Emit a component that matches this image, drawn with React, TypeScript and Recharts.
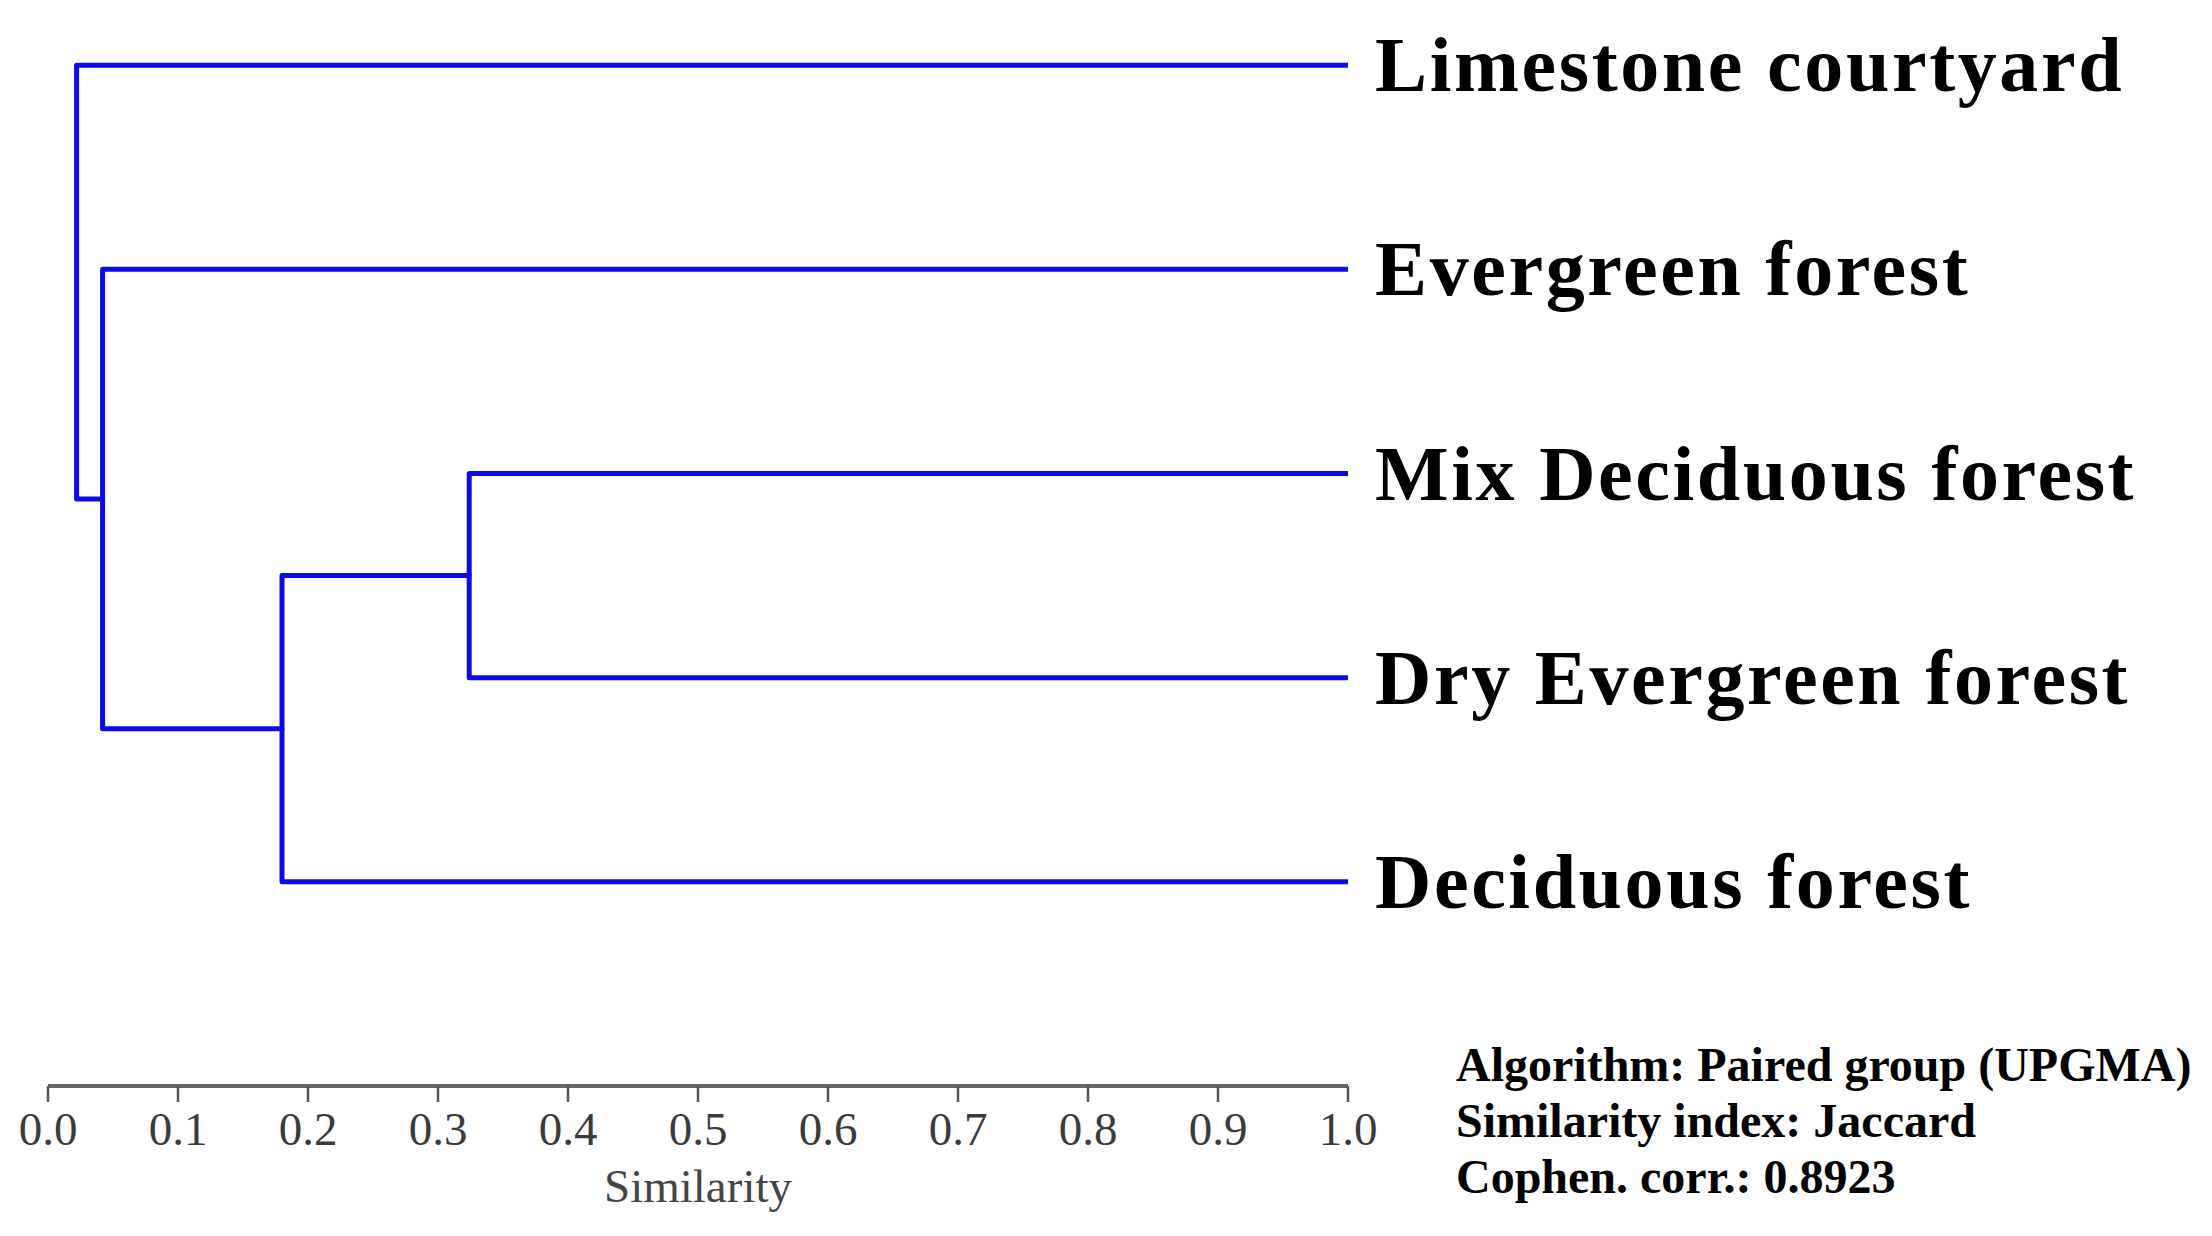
import { ScatterChart, Scatter, XAxis, YAxis } from "recharts";

const leaves = [
  "Limestone courtyard",
  "Evergreen forest",
  "Mix Deciduous forest",
  "Dry Evergreen forest",
  "Deciduous forest",
];
const leafSimilarity = 1.0;

// UPGMA merges, in order. ids 0-4 are leaves, 5.. are the clusters made here
const mergeA = [2, 5, 1, 0];
const mergeB = [3, 4, 6, 7];
const mergeSimilarity = [0.324, 0.18, 0.042, 0.022];

const xTicks = [0, 0.1, 0.2, 0.3, 0.4, 0.5, 0.6, 0.7, 0.8, 0.9, 1.0];
const leafTicks = [0, 1, 2, 3, 4];

const notes = [
  "Algorithm: Paired group (UPGMA)",
  "Similarity index: Jaccard",
  "Cophen. corr.: 0.8923",
];

const BLUE = "#0b0be8";
const SERIF = "'Liberation Serif', 'Times New Roman', serif";

// position of each node on the leaf axis and its similarity level
const pos: number[] = leaves.map((_, i) => i);
const sim: number[] = leaves.map(() => leafSimilarity);
const branches = mergeA.map((a, k) => {
  const b = mergeB[k];
  const s = mergeSimilarity[k];
  pos.push((pos[a] + pos[b]) / 2);
  sim.push(s);
  return [
    { x: sim[a], y: pos[a] },
    { x: s, y: pos[a] },
    { x: s, y: pos[b] },
    { x: sim[b], y: pos[b] },
  ];
});

const LeafTick = ({ x, y, payload }: any) => (
  <text
    x={x}
    y={y}
    dy={26}
    fill="#000"
    fontSize={78}
    fontWeight="bold"
    fontFamily={SERIF}
    letterSpacing={2.6}
  >
    {leaves[payload.value]}
  </text>
);

export default function App() {
  return (
    <div
      style={{
        position: "absolute",
        left: 0,
        top: 0,
        width: 2212,
        height: 1236,
        background: "#fff",
      }}
    >
      <ScatterChart
        width={2212}
        height={1236}
        margin={{ top: 55, right: 44, bottom: 0, left: 48 }}
      >
        <XAxis
          type="number"
          dataKey="x"
          domain={[0, 1]}
          ticks={xTicks}
          interval={0}
          allowDataOverflow
          height={150}
          tickFormatter={(v: number) => v.toFixed(1)}
          axisLine={{ stroke: "#666", strokeWidth: 4 }}
          tickLine={{ stroke: "#555", strokeWidth: 2.5 }}
          tickSize={16}
          tickMargin={10}
          tick={{ fill: "#3a3a3a", fontSize: 47, fontFamily: SERIF }}
          label={{
            value: "Similarity",
            position: "insideBottom",
            offset: 34,
            fill: "#444",
            fontSize: 47,
            fontFamily: SERIF,
          }}
        />
        <YAxis
          type="number"
          dataKey="y"
          orientation="right"
          domain={[-0.05, 5]}
          reversed
          ticks={leafTicks}
          interval={0}
          width={820}
          axisLine={false}
          tickLine={false}
          tickSize={0}
          tickMargin={27}
          tick={<LeafTick />}
        />
        {branches.map((pts, i) => (
          <Scatter
            key={i}
            data={pts}
            isAnimationActive={false}
            shape={() => <g />}
            line={{
              stroke: BLUE,
              strokeWidth: 5,
              strokeLinejoin: "round",
              strokeLinecap: "round",
            }}
          />
        ))}
      </ScatterChart>
      <div
        style={{
          position: "absolute",
          left: 1456,
          top: 1037,
          fontFamily: SERIF,
          fontWeight: "bold",
          fontSize: 48,
          lineHeight: "56px",
          color: "#000",
          whiteSpace: "nowrap",
        }}
      >
        {notes.map((n) => (
          <div key={n}>{n}</div>
        ))}
      </div>
    </div>
  );
}
